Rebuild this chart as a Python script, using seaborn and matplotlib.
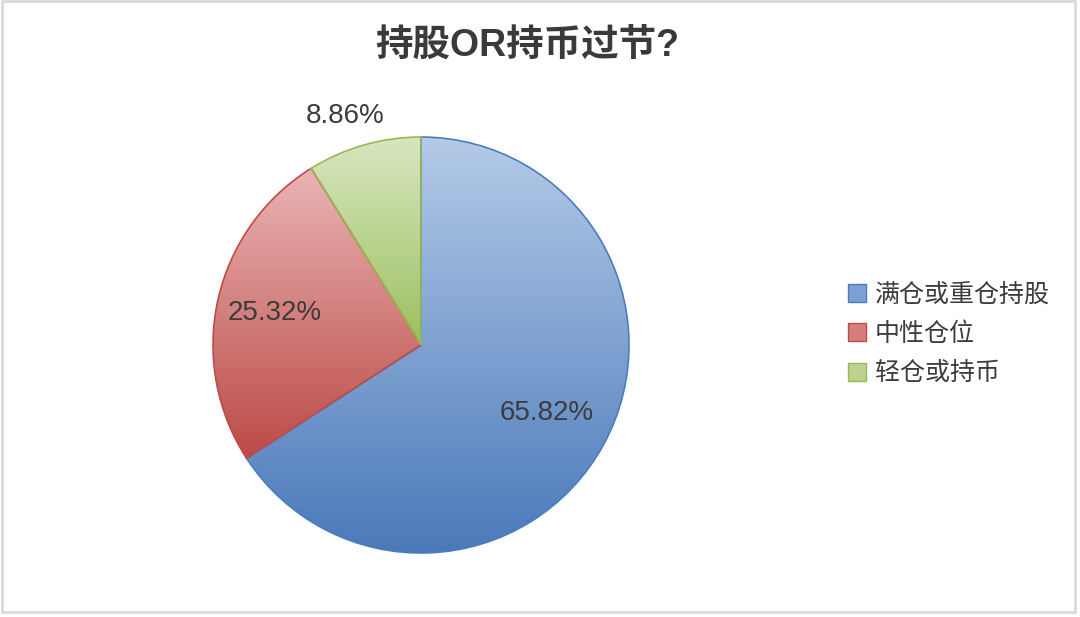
import numpy as np
import matplotlib
matplotlib.use("Agg")
import matplotlib.pyplot as plt
from matplotlib.colors import LinearSegmentedColormap
from matplotlib.patches import Patch, Rectangle
import seaborn as sns

# data
labels = ['满仓或重仓持股', '中性仓位', '轻仓或持币']
shares = [65.82, 25.32, 8.86]
pct_text = ['65.82%', '25.32%', '8.86%']

# gradient colours per slice (top -> bottom) and outline colour
top_colors = ['#b4cae7', '#e9b5b4', '#d8e6c0']
bottom_colors = ['#4a79ba', '#bd4a47', '#9cc05e']
edge_colors = ['#4a7ebb', '#be4b48', '#98b954']
mid_colors = ['#7d9fd2', '#d47f7d', '#bcd38f']

sns.set_theme(style="white")
plt.rcParams['font.family'] = ['Liberation Sans', 'Noto Sans CJK SC']

fig = plt.figure(figsize=(10.8, 6.17), dpi=100)
W, H = 1080, 617
cx, cy, R = 421, 345, 208
ax = fig.add_axes([(cx - R) / W, (H - cy - R) / H, 2 * R / W, 2 * R / H])

wedges, texts = ax.pie(shares, startangle=90, counterclock=False, radius=1,
                       wedgeprops=dict(linewidth=1.2))
ax.set_aspect('equal')
ax.axis('off')

# gradient fill clipped to each wedge
for i, w in enumerate(wedges):
    w.set_facecolor('none')
    w.set_edgecolor(edge_colors[i])
    w.set_zorder(3)
    verts = w.get_path().vertices
    x0, y0 = verts.min(axis=0)
    x1, y1 = verts.max(axis=0)
    cmap = LinearSegmentedColormap.from_list('g%d' % i, [top_colors[i], bottom_colors[i]])
    grad = np.linspace(0, 1, 256).reshape(-1, 1)
    im = ax.imshow(grad, cmap=cmap, extent=[x0, x1, y0, y1], origin='upper',
                   aspect='auto', zorder=2)
    im.set_clip_path(w)

# percentage labels
dist = [0.69, 0.72, 1.16]
ang_off = [0, 0, 2.5]
for i, w in enumerate(wedges):
    ang = np.deg2rad((w.theta1 + w.theta2) / 2 + ang_off[i])
    ax.text(dist[i] * np.cos(ang), dist[i] * np.sin(ang), pct_text[i],
            ha='center', va='center', fontsize=20, color='#3c3c3c', zorder=5)

ax.set_xlim(-1, 1)
ax.set_ylim(-1, 1)

fig.text(527 / W, 1 - 46 / H, '持股OR持币过节?', ha='center', va='center',
         fontsize=27, fontweight='bold', color='#3a3a3a',
         family=['Liberation Sans', 'Noto Sans CJK SC'])

handles = [Patch(facecolor=mid_colors[i], edgecolor=edge_colors[i], linewidth=1)
           for i in range(3)]
fig.legend(handles, labels, loc='center left', bbox_to_anchor=(848 / W, 1 - 334 / H),
           frameon=False, fontsize=18, handlelength=0.72, handleheight=0.72,
           handletextpad=0.35, labelspacing=0.62, labelcolor='#3c3c3c',
           borderpad=0, borderaxespad=0)

fig.patches.append(Rectangle((2 / W, 5 / H), 1073 / W, 611 / H, transform=fig.transFigure,
                             fill=False, edgecolor='#dadada', linewidth=2))

fig.savefig('out.png', dpi=100)
